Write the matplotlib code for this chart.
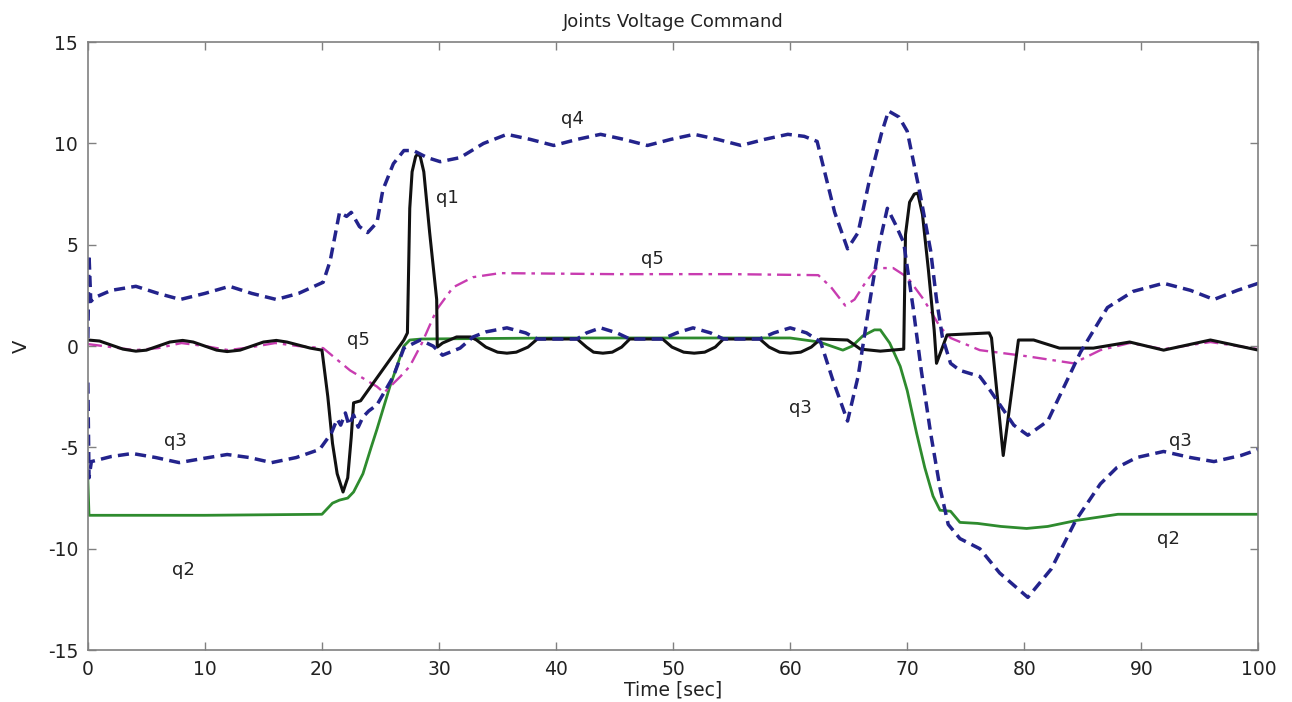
import numpy as np
import matplotlib
matplotlib.use("Agg")
import matplotlib.pyplot as plt

# joint 1 (black solid)
q1_t = [0, 1, 2, 3, 4.1, 5, 6, 7, 8.1, 9, 10, 11, 11.9, 13, 14, 15, 16.1, 17, 18, 19, 20.0,
        20.5, 20.9, 21.3, 21.8, 22.2, 22.5, 22.7, 23.3, 27.0, 27.3, 27.5, 27.7, 28.0, 28.2, 28.4, 28.7, 29.2,
        29.8, 29.85, 30.3, 31.5, 32.7, 33.2, 34.0, 35.0, 35.8, 36.6, 37.6, 38.4,
        41.8, 42.6, 43.2, 44.0, 44.8, 45.6, 46.3,
        49.1, 49.9, 50.9, 51.8, 52.7, 53.6, 54.3,
        57.4, 58.2, 59.1, 60.0, 60.9, 61.8, 62.6,
        64.9, 66.0, 67.7, 69.7, 69.85, 70.2, 70.6, 70.9, 71.3, 71.8, 72.3, 72.5, 73.4,
        77.0, 77.2, 78.2, 79.5, 80.8, 83.0, 85.9, 89.0, 91.9, 95.9, 100]
q1_v = [0.3, 0.25, 0.05, -0.15, -0.25, -0.2, 0.0, 0.2, 0.28, 0.2, 0.0, -0.2, -0.27, -0.2, 0.0, 0.2, 0.28, 0.2, 0.05, -0.1, -0.2,
        -2.5, -4.8, -6.3, -7.2, -6.5, -4.5, -2.8, -2.7, 0.3, 0.65, 6.8, 8.6, 9.35, 9.5, 9.35, 8.6, 5.6,
        2.3, -0.05, 0.15, 0.45, 0.45, 0.3, -0.05, -0.3, -0.35, -0.3, -0.05, 0.35,
        0.35, -0.05, -0.3, -0.35, -0.3, -0.05, 0.35,
        0.35, -0.05, -0.3, -0.35, -0.3, -0.05, 0.35,
        0.35, -0.05, -0.3, -0.35, -0.3, -0.05, 0.35,
        0.3, -0.15, -0.25, -0.15, 5.5, 7.1, 7.5, 7.55, 6.5, 3.8, 0.8, -0.85, 0.55,
        0.65, 0.4, -5.4, 0.3, 0.3, -0.1, -0.1, 0.2, -0.2, 0.3, -0.2]

# joint 2 (green solid)
q2_t = [0, 0.1, 10, 20, 20.9, 21.5, 22.2, 22.7, 23.5, 24.2, 24.7, 25.8, 27.0, 27.5, 28.5, 40, 60,
        62.5, 63.5, 64.5, 65.3, 66.2, 67.2, 67.7, 68.5, 69.4, 70.0, 70.8, 71.5, 72.2, 72.8, 73.7,
        74.5, 76, 78, 80.2, 82, 84.5, 88, 100]
q2_v = [-6.6, -8.35, -8.35, -8.3, -7.75, -7.6, -7.5, -7.2, -6.3, -5.0, -4.1, -2.0, 0.0, 0.3, 0.35, 0.4, 0.4,
        0.2, 0.0, -0.2, 0.0, 0.5, 0.8, 0.8, 0.15, -1.0, -2.2, -4.3, -6.0, -7.4, -8.1, -8.15,
        -8.7, -8.75, -8.9, -9.0, -8.9, -8.6, -8.3, -8.3]

# joint 3 (blue dashed)
q3_t = [0, 0.1, 0.3, 2, 3.8, 5.8, 7.8, 9.8, 11.9, 13.8, 15.7, 17.8, 19.8, 20.8, 21.3, 21.6, 22.0,
        22.3, 22.7, 23.1, 23.5, 24.0, 24.7, 26.1, 27.0, 28.4, 29.5, 30.3, 31.8, 32.9, 34.0, 35.8,
        37.4, 38.4, 41.8, 42.6, 43.8, 45.2, 46.3, 49.1, 50.3, 51.7, 53.2, 54.3, 57.4, 58.6, 60.0,
        61.4, 62.6, 63.6, 64.9, 65.8, 66.8, 67.6, 68.3, 69.0, 69.7, 70.5, 71.2, 72.0, 72.8, 73.5,
        74.5, 76.2, 77.9, 80.3, 82.3, 84.4, 86.5, 87.9, 89.6, 91.9, 94.2, 96.2, 98.5, 100]
q3_v = [-1.8, -6.5, -5.7, -5.45, -5.3, -5.5, -5.75, -5.55, -5.35, -5.5, -5.75, -5.5, -5.1, -4.3, -3.6, -3.9, -3.3,
        -3.9, -3.4, -4.0, -3.5, -3.2, -2.9, -1.5, -0.1, 0.3, 0.0, -0.45, -0.1, 0.45, 0.7, 0.9,
        0.65, 0.35, 0.35, 0.65, 0.9, 0.65, 0.35, 0.35, 0.65, 0.9, 0.65, 0.35, 0.35, 0.65, 0.9,
        0.65, 0.2, -1.6, -3.7, -1.5, 2.2, 5.0, 6.8, 6.0, 5.1, 1.9, -1.2, -4.3, -7.0, -8.8,
        -9.5, -10.0, -11.2, -12.4, -11.0, -8.6, -6.8, -6.0, -5.5, -5.2, -5.5, -5.7, -5.4, -5.1]

# joint 4 (blue dashed)
q4_t = [0, 0.1, 0.25, 0.6, 2, 4.1, 6, 7.9, 10, 12.1, 14, 16.1, 18, 20.1, 20.7, 21.5, 22.1, 22.5,
        23.2, 23.9, 24.7, 25.2, 26.1, 27.0, 27.8, 29.0, 30.1, 31.8, 33.8, 35.8, 37.8, 39.8, 41.8,
        43.8, 45.8, 47.8, 49.8, 51.8, 53.8, 55.8, 57.8, 59.8, 61.2, 62.3, 63.8, 64.9, 65.8, 66.7,
        67.8, 68.4, 69.3, 70.0, 71.1, 72.0, 72.5, 73.0, 73.7, 74.5, 76.2, 77.1, 79.1, 80.3, 82.0,
        84.8, 87.1, 89.3, 91.9, 94.2, 96.2, 98.2, 100]
q4_v = [0.4, 4.5, 2.2, 2.4, 2.75, 2.95, 2.6, 2.3, 2.6, 2.95, 2.6, 2.3, 2.6, 3.15, 4.2, 6.6, 6.4, 6.6,
        5.9, 5.6, 6.1, 7.7, 9.0, 9.65, 9.65, 9.3, 9.1, 9.3, 10.0, 10.45, 10.2, 9.9, 10.2,
        10.45, 10.2, 9.9, 10.2, 10.45, 10.2, 9.9, 10.2, 10.45, 10.35, 10.1, 6.6, 4.8, 5.6, 8.0,
        10.5, 11.6, 11.3, 10.6, 7.5, 4.7, 2.3, 0.45, -0.85, -1.2, -1.5, -2.2, -3.9, -4.4, -3.7,
        -0.3, 1.9, 2.7, 3.1, 2.75, 2.3, 2.75, 3.1]

# joint 5 (magenta dash-dot)
q5_t = [0, 2, 4, 6, 8, 10, 12, 14, 16, 18, 20.1, 22.4, 24.7, 25.3, 26.7, 27.5, 28.5, 29.8, 31.2,
        32.9, 35.2, 45, 55, 62.4, 63.5, 64.7, 65.5, 66.5, 67.4, 68.8, 70.0, 71.4, 72.8, 73.7,
        76.2, 80.2, 84.2, 86.5, 89.0, 91.9, 95.9, 100]
q5_v = [0.1, -0.05, -0.2, -0.1, 0.15, 0.0, -0.2, -0.05, 0.15, 0.0, -0.1, -1.2, -2.0, -2.3, -1.5, -1.0, 0.1, 1.8, 2.9,
        3.4, 3.6, 3.55, 3.55, 3.5, 2.9, 2.0, 2.3, 3.2, 3.85, 3.85, 3.4, 2.3, 0.95, 0.4,
        -0.2, -0.5, -0.85, -0.2, 0.15, -0.15, 0.2, -0.15]

label_text = ["q4", "q1", "q5", "q5", "q3", "q2", "q3", "q3", "q2"]
label_x = [41.4, 30.7, 48.2, 23.1, 7.5, 8.2, 60.9, 93.3, 92.3]
label_y = [11.2, 7.3, 4.3, 0.3, -4.7, -11.05, -3.05, -4.7, -9.5]

plt.rcParams['font.family'] = ['DejaVu Sans']
plt.rcParams['axes.unicode_minus'] = False

fig = plt.figure(figsize=(12.92, 7.02), dpi=100)
ax = fig.add_axes([0.068, 0.074, 0.906, 0.866])

blue = '#23238c'
ax.plot(q2_t, q2_v, color='#2e8b2e', lw=2.0)
ax.plot(q5_t, q5_v, color='#c83cb0', lw=1.7, dashes=(6, 2.5, 1.5, 2.5))
ax.plot(q1_t, q1_v, color='#111111', lw=2.2)
ax.plot(q3_t, q3_v, color=blue, lw=2.5, dashes=(3.2, 1.8))
ax.plot(q4_t, q4_v, color=blue, lw=2.5, dashes=(3.2, 1.8))

for s, x, y in zip(label_text, label_x, label_y):
    ax.text(x, y, s, fontsize=13, ha='center', va='center', color='#222222')

ax.set_xlim(0, 100)
ax.set_ylim(-15, 15)
ax.set_xticks(np.arange(0, 101, 10))
ax.set_yticks(np.arange(-15, 16, 5))
ax.tick_params(direction='in', top=True, right=True, length=6, width=1,
               color='#808080', labelsize=13.5, pad=7, labelcolor='#222222')
for sp in ax.spines.values():
    sp.set_color('#808080')
    sp.set_linewidth(1.2)

ax.set_title('Joints Voltage Command', fontsize=13, color='#222222', pad=11)
ax.set_xlabel('Time [sec]', fontsize=13.5, color='#222222', labelpad=1)
ax.set_ylabel('V', fontsize=14, color='#222222', labelpad=12)

fig.savefig('out.png', dpi=100)
